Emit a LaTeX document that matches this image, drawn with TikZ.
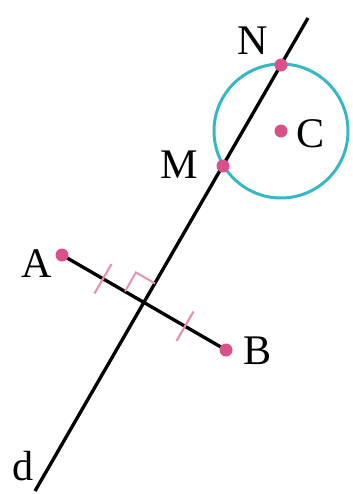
\documentclass[tikz,border=0pt]{standalone}
\usepackage{fontspec}
\setmainfont{Liberation Serif}
\usetikzlibrary{calc,positioning}
\definecolor{dotc}{HTML}{D9508A}
\definecolor{tickc}{HTML}{E78FB2}
\definecolor{circc}{HTML}{35B8C6}
\tikzset{
  lin/.style={line width=1.9pt, black},
  circ/.style={line width=1.7pt, circc},
  tickm/.style={line width=1.2pt, tickc},
  rang/.style={line width=1.1pt, tickc},
  dot/.style={circle, fill=dotc, inner sep=0pt, minimum size=13*0.02cm},
  lbl/.style={font=\fontsize{24}{24}\selectfont, inner sep=0pt},
}
\begin{document}
\begin{tikzpicture}[x=0.02cm,y=-0.02cm]
\useasboundingbox (0,0) rectangle (352,494);

% points
\coordinate (dtop) at (308,18);
\coordinate (dbot) at (35,491);
\coordinate (A) at (62,255);
\coordinate (B) at (226,350);
\coordinate (P) at ($(A)!0.5!(B)$);
\coordinate (C) at (281,131);
\coordinate (N) at (281,65);
\coordinate (M) at (223,166);

% circle and lines
\draw[circ] (C) circle (67);
\draw[lin] (dtop) -- (dbot);
\draw[lin] (A) -- (B);

% right angle mark
\coordinate (ra) at ($(P)!0.44cm!(A)$);
\coordinate (rd) at ($(P)!0.44cm!(dtop)$);
\draw[rang] (ra) -- ($(ra)+(rd)-(P)$) -- (rd);

% equal ticks
\coordinate (qa) at ($(A)!0.5!(P)$);
\coordinate (qb) at ($(P)!0.5!(B)$);
\draw[tickm] ($(qa)!0.34cm!90:(A)$) -- ($(qa)!0.34cm!-90:(A)$);
\draw[tickm] ($(qb)!0.34cm!90:(B)$) -- ($(qb)!0.34cm!-90:(B)$);

% dots
\foreach \p in {A,B,C,N,M}
  \node[dot] (d\p) at (\p) {};

% labels
\node[lbl] (lN) at (253,41) {N};
\node[lbl] (lM) at (179,165) {M};
\node[lbl] (lC) at (311,134) {C};
\node[lbl] (lA) at (37,264) {A};
\node[lbl] (lB) at (258,351) {B};
\node[lbl] (ld) at (23,466) {d};

\end{tikzpicture}
\end{document}
